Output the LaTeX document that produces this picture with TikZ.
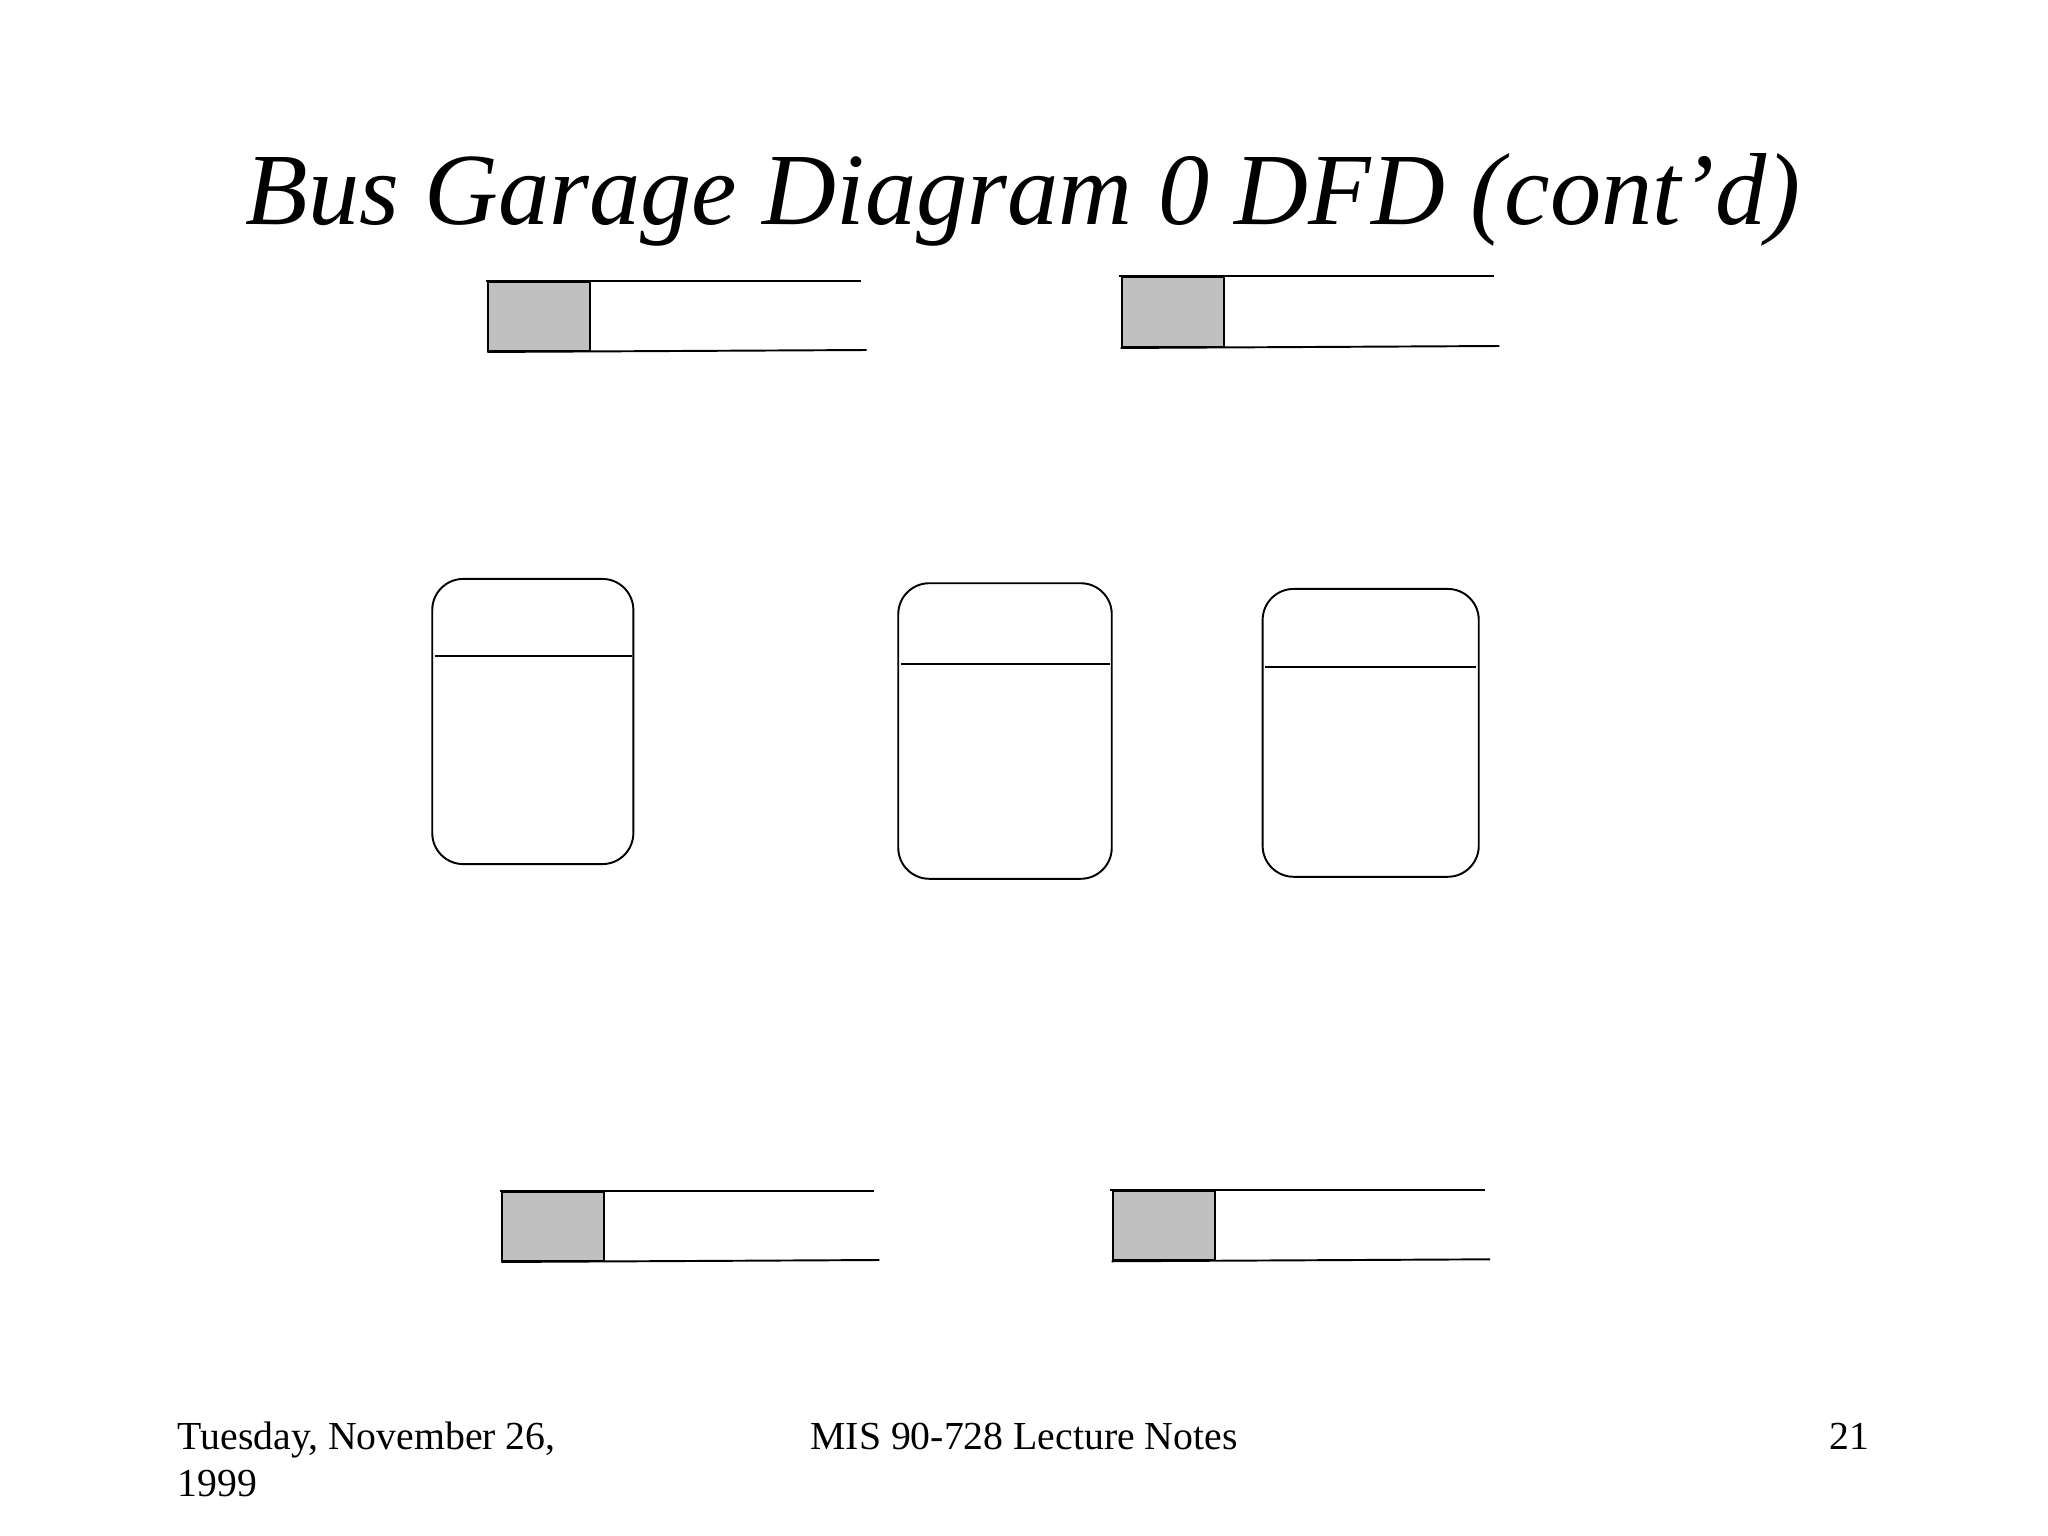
\documentclass[tikz,border=0pt]{standalone}
\usepackage{fontspec}
\setmainfont{Liberation Serif}
\definecolor{storegray}{HTML}{C0C0C0}
\begin{document}
\begin{tikzpicture}[x=0.01cm,y=-0.01cm,
  line/.style={line width=0.55pt,black},
  procbox/.style={draw,line width=0.55pt,rectangle,rounded corners=0.31cm,inner sep=0pt},
  storeid/.style={draw,line width=0.55pt,fill=storegray,rectangle,inner sep=0pt,anchor=north west},
  titletext/.style={font=\fontsize{29.1}{34}\selectfont\itshape,inner sep=0pt,anchor=base},
  foottext/.style={font=\fontsize{11.3}{13.5}\selectfont,inner sep=0pt}]
\useasboundingbox[fill=white] (0,0) rectangle (2048,1536);

% title
\node[titletext] (title) at (1023,224.6) {Bus Garage Diagram 0 DFD (cont’d)};

% data stores (top)
\node[storeid,minimum width=1.02cm,minimum height=0.693cm] (s1) at (487.3,280.7) {};
\coordinate (s1t) at (860.7,280.7);
\coordinate (s1b) at (866.7,350);
\draw[line] ([xshift=-0.016cm]s1.north west) -- (s1t);
\draw[line] (s1.south west) -- (s1b);

\node[storeid,minimum width=1.02cm,minimum height=0.70cm] (s2) at (1120.7,276) {};
\coordinate (s2t) at (1494.3,276);
\coordinate (s2b) at (1499.3,346);
\draw[line] ([xshift=-0.02cm]s2.north west) -- (s2t);
\draw[line] (s2.south west) -- (s2b);

% processes
\node[procbox,minimum width=2.01cm,minimum height=2.85cm] (p1) at (532.8,721.5) {};
\draw[line] ([xshift=0.034cm,yshift=-0.783cm]p1.north west) -- ([xshift=-0.026cm,yshift=-0.783cm]p1.north east);

\node[procbox,minimum width=2.134cm,minimum height=2.954cm] (p2) at (1005,731) {};
\draw[line] ([xshift=0.037cm,yshift=-0.814cm]p2.north west) -- ([xshift=-0.03cm,yshift=-0.814cm]p2.north east);

\node[procbox,minimum width=2.16cm,minimum height=2.877cm] (p3) at (1370.7,732.85) {};
\draw[line] ([xshift=0.033cm,yshift=-0.787cm]p3.north west) -- ([xshift=-0.037cm,yshift=-0.787cm]p3.north east);

% data stores (bottom)
\node[storeid,minimum width=1.017cm,minimum height=0.687cm] (s3) at (501.3,1191.3) {};
\coordinate (s3t) at (874.3,1191.3);
\coordinate (s3b) at (879.3,1260);
\draw[line] ([xshift=-0.016cm]s3.north west) -- (s3t);
\draw[line] (s3.south west) -- (s3b);

\node[storeid,minimum width=1.02cm,minimum height=0.693cm] (s4) at (1111.7,1190) {};
\coordinate (s4t) at (1485,1190);
\coordinate (s4b) at (1490,1259.3);
\draw[line] ([xshift=-0.016cm]s4.north west) -- (s4t);
\draw[line] (s4.south west) -- (s4b);

% footer
\node[foottext,anchor=base west] (date1) at (177,1449.3) {Tuesday, November 26,};
\node[foottext,anchor=base west] (date2) at (177,1496.7) {1999};
\node[foottext,anchor=base] (course) at (1024,1449.3) {MIS 90-728 Lecture Notes};
\node[foottext,anchor=base east] (page) at (1870,1449.3) {21};
\end{tikzpicture}
\end{document}
